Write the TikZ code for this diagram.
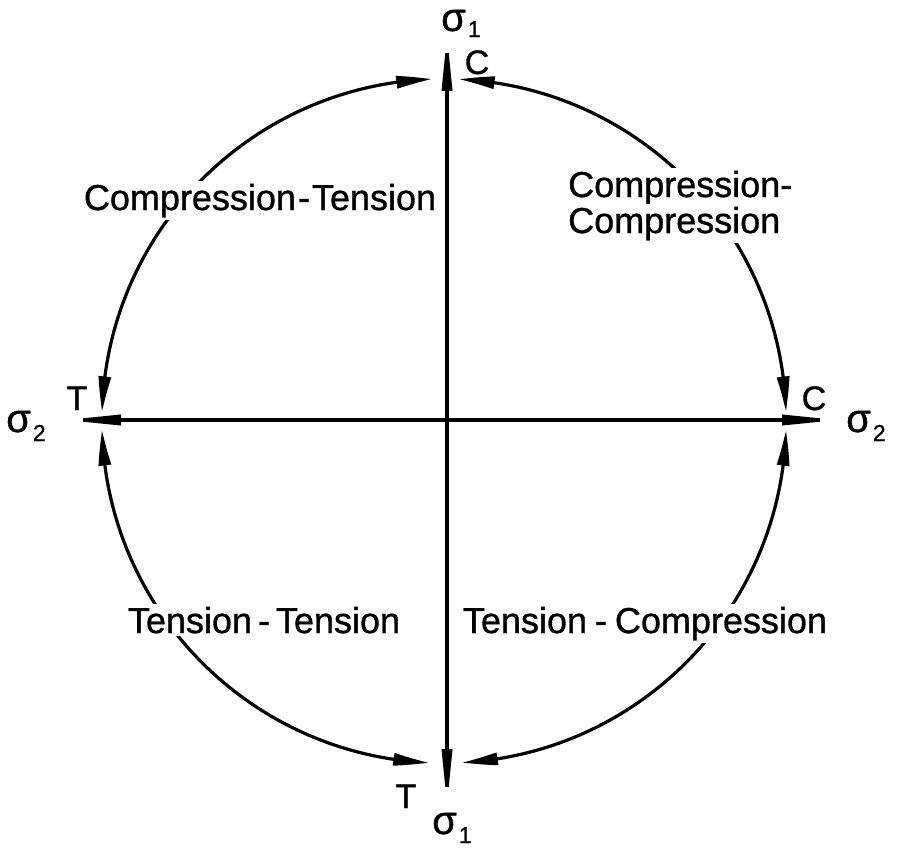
\documentclass[tikz,border=0pt]{standalone}
\usepackage{fontspec}
\setmainfont{Liberation Sans}
\newfontfamily\lblfont{Liberation Sans}[FakeBold=1]
\usetikzlibrary{arrows.meta,calc,bending}
\newcommand{\sigsub}[2][-9pt]{σ\kern2pt\raisebox{#1}{\fontsize{23}{23}\selectfont #2}}
\begin{document}
\begin{tikzpicture}[x=1pt,y=-1pt,
  axisline/.style={line width=3.5pt, {Triangle[length=58pt,width=10pt]}-{Triangle[length=58pt,width=10pt]}},
  arcline/.style={line width=3.2pt, {Triangle[length=36pt,width=12pt,bend]}-{Triangle[length=36pt,width=12pt,bend]}},
  lbl/.style={font=\lblfont\fontsize{36}{40}\selectfont, fill=white, inner sep=3pt, anchor=base},
  tag/.style={font=\lblfont\fontsize{34}{38}\selectfont, inner sep=0pt, anchor=base},
  sig/.style={font=\lblfont\fontsize{40}{42}\selectfont, inner sep=0pt, anchor=base west}]
\path[use as bounding box] (0,0) rectangle (900,851);
% centre and axis ends
\coordinate (O) at (444,421);
\coordinate (N) at (447,33);
\coordinate (S) at (447,807);
\coordinate (W) at (63,420);
\coordinate (E) at (840,420);
% arc end points
\coordinate (a1) at ($(O)+(-178.5:342)$);
\coordinate (a2) at ($(O)+(-87.5:342)$);
\coordinate (a3) at ($(O)+(1.5:342)$);
\coordinate (a4) at ($(O)+(92.5:342)$);
% axes
\draw[axisline] (S) -- (N);
\draw[axisline] (W) -- (E);
% arcs
\draw[arcline] (a1) arc[start angle=-178.5, end angle=-92, radius=342];
\draw[arcline] (a2) arc[start angle=-87.5, end angle=-1.5, radius=342];
\draw[arcline] (a3) arc[start angle=1.5, end angle=87, radius=342];
\draw[arcline] (a4) arc[start angle=92.5, end angle=178.5, radius=342];
% quadrant labels
\node[lbl] (ct) at (260,210) {Compression\kern2pt-\kern2pt Tension};
\node[lbl,anchor=base west] (cc1) at (565,197) {Compression-};
\node[lbl,anchor=base west] (cc2) at (565,233) {Compression};
\node[lbl] (tt) at (264,633) {Tension\kern6pt-\kern6pt Tension};
\node[lbl] (tc) at (645,633) {Tension\kern8pt-\kern8pt Compression};
% C / T marks
\node[tag] (cN) at (477,74) {C};
\node[tag] (tS) at (406,808) {T};
\node[tag] (tW) at (77,410) {T};
\node[tag] (cE) at (814,410) {C};
% sigma labels
\node[sig] (sN) at (441,31) {\sigsub[-6pt]{1}};
\node[sig] (sS) at (432,834) {\sigsub{1}};
\node[sig] (sW) at (6,432) {\sigsub{2}};
\node[sig] (sE) at (846,432) {\sigsub{2}};
\end{tikzpicture}
\end{document}
